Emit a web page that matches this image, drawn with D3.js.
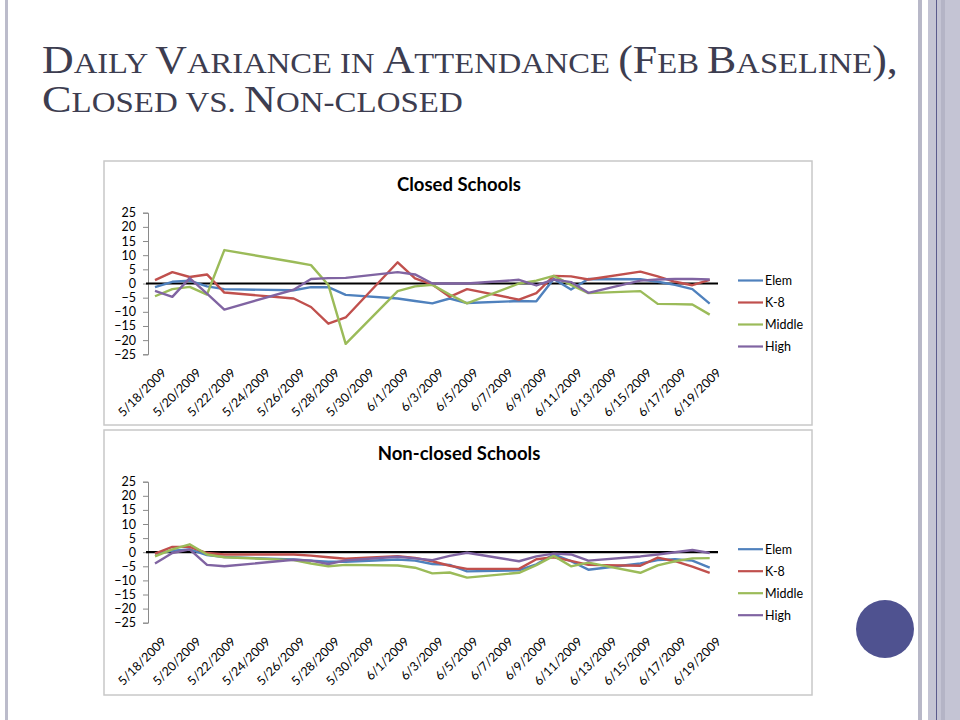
<!DOCTYPE html>
<html>
<head>
<meta charset="utf-8">
<script src="https://cdn.jsdelivr.net/npm/d3@7"></script>
<style>
  body { margin: 0; background: #fff; }
  svg { display: block; }
</style>
</head>
<body>
<div id="slide"></div>
<script>
// School days shown on both charts (weekends and Memorial Day are skipped)
var dates = ["2009-05-18", "2009-05-19", "2009-05-20", "2009-05-21", "2009-05-22",
  "2009-05-26", "2009-05-27", "2009-05-28", "2009-05-29",
  "2009-06-01", "2009-06-02", "2009-06-03", "2009-06-04", "2009-06-05",
  "2009-06-08", "2009-06-09", "2009-06-10", "2009-06-11", "2009-06-12",
  "2009-06-15", "2009-06-16", "2009-06-17", "2009-06-18", "2009-06-19"];

var seriesNames = ["Elem", "K-8", "Middle", "High"];

// Closed schools
var closedElem   = [-1.3, 0.6, 1, -1, -2, -2.4, -1.3, -1.3, -4, -5.3, -6.2, -7, -5.3, -6.9, -6.2, -6.3, 1.6, -2.1, 1.6, 1.5, 0.6, -0.5, -2, -7.1];
var closedK8     = [1.2, 4, 2.3, 3.2, -3.2, -5.3, -8.3, -14.2, -12, 7.5, 1.8, -0.4, -4.7, -2, -5.7, -3.4, 2.7, 2.5, 1.4, 4.2, 2.5, 0.6, -0.6, 1.3];
var closedMiddle = [-4.5, -2, -1.2, -3.9, 11.8, 7.6, 6.5, -0.5, -21.3, -2.7, -1, -0.5, -3.9, -7, 0, 1, 2.7, -0.5, -3.4, -2.7, -7.2, -7.3, -7.4, -11];
var closedHigh   = [-2.6, -4.7, 1.9, -3.6, -9.2, -2.2, 1.6, 1.9, 2, 4, 3.2, 0, 0, 0, 1.3, -0.7, 1.4, 0.5, -3.3, 1, 1.4, 1.6, 1.6, 1.4];

// Non-closed schools
var nonElem   = [-0.5, 0.5, 1, -1, -1.7, -2.6, -3, -3.4, -3.4, -2.6, -3, -4.2, -4.5, -6.8, -6.4, -4.3, -0.8, -3.2, -6.2, -4, -2.8, -2.5, -3, -5.5];
var nonK8     = [-0.5, 1.9, 1.9, -0.3, -0.8, -0.8, -1.2, -1.8, -2.3, -1.4, -2, -3.2, -4.8, -5.9, -5.9, -2.5, -1.8, -3.1, -4.5, -4.8, -1.9, -3.2, -5.1, -7.3];
var nonMiddle = [-1.5, 1, 2.8, -0.8, -1.8, -2.8, -4, -5, -4.5, -4.7, -5.5, -7.5, -7.2, -9, -7.3, -4.6, -1.3, -5, -3.7, -7.3, -4.7, -3.2, -2.2, -2.1];
var nonHigh   = [-4, -0.3, 1, -4.5, -5, -2.7, -3, -4.2, -2.9, -1.6, -2.2, -2.8, -1.3, -0.2, -3.2, -1.5, -0.5, -0.8, -3, -1.5, -0.8, 0, 0.8, -0.3];

var yTicks = [25, 20, 15, 10, 5, 0, -5, -10, -15, -20, -25];

// Excel 2007 default series colours
var color = d3.scaleOrdinal()
  .domain(seriesNames)
  .range(["#4F81BD", "#C0504D", "#9BBB59", "#8064A2"]);

var parseDate = d3.timeParse("%Y-%m-%d");
var fmtDate = d3.timeFormat("%-m/%-d/%Y");
var days = dates.map(parseDate);

var svg = d3.select("#slide")
  .append("svg")
    .attr("width", 960)
    .attr("height", 720);

// Slide frame
svg.append("rect").attr("x", 0).attr("y", 0).attr("width", 960).attr("height", 720).attr("fill", "#fff");
svg.append("rect").attr("x", 5).attr("y", 0).attr("width", 3).attr("height", 720).attr("fill", "#bcbccb");
svg.append("rect").attr("x", 918).attr("y", 0).attr("width", 4).attr("height", 720).attr("fill", "#b8b8c8");
svg.append("rect").attr("x", 928).attr("y", 0).attr("width", 32).attr("height", 720).attr("fill", "#c4c4d4");
svg.append("rect").attr("x", 936).attr("y", 0).attr("width", 1).attr("height", 720).attr("fill", "#5a5a8c");
svg.append("rect").attr("x", 941).attr("y", 0).attr("width", 4).attr("height", 720).attr("fill", "#b4b4c6");
svg.append("circle").attr("cx", 885).attr("cy", 629).attr("r", 29).attr("fill", "#4f5290");

// Slide title, hand-made small caps
var titleLines = [
  { y: 73, width: 856, parts: [["D", 1], ["AILY ", 0], ["V", 1], ["ARIANCE IN ", 0], ["A", 1], ["TTENDANCE ", 0],
                               ["(F", 1], ["EB ", 0], ["B", 1], ["ASELINE", 0], ["),", 1]] },
  { y: 112, width: 421, parts: [["C", 1], ["LOSED VS. ", 0], ["N", 1], ["ON-CLOSED", 0]] }
];

titleLines.forEach(function(line) {
  var t = svg.append("text")
    .attr("x", 42)
    .attr("y", line.y)
    .attr("fill", "#3d3d50")
    .style("font-family", "'Liberation Serif', 'DejaVu Serif', serif");
  t.selectAll("tspan")
    .data(line.parts)
    .enter().append("tspan")
      .style("font-size", function(d) { return d[1] ? "39px" : "29px"; })
      .text(function(d) { return d[0]; });
  var w = t.node().getComputedTextLength();
  t.attr("transform", "translate(42," + line.y + ") scale(" + (line.width / w) + ",1) translate(-42," + (-line.y) + ")");
});

var panels = [
  { title: "Closed Schools", top: 161, bottom: 425, titleY: 191, y0: 354.3, y1: 212.7,
    values: [closedElem, closedK8, closedMiddle, closedHigh] },
  { title: "Non-closed Schools", top: 430, bottom: 695, titleY: 460, y0: 622.7, y1: 481.7,
    values: [nonElem, nonK8, nonMiddle, nonHigh] }
];

panels.forEach(drawPanel);

function drawPanel(p) {
  var g = svg.append("g").style("font-family", "Lato, 'Open Sans', sans-serif");

  // Chart border
  g.append("rect")
    .attr("x", 104).attr("y", p.top)
    .attr("width", 708).attr("height", p.bottom - p.top)
    .attr("fill", "#fff")
    .attr("stroke", "#c8c8c8")
    .attr("stroke-width", 1.5);

  g.append("text")
    .attr("x", 459).attr("y", p.titleY)
    .attr("text-anchor", "middle")
    .style("font-size", "18.5px")
    .style("font-weight", "bold")
    .attr("fill", "#000")
    .text(p.title);

  var x = d3.scaleTime()
    .domain([days[0], days[days.length - 1]])
    .range([155, 709.7]);

  var y = d3.scaleLinear()
    .domain([-25, 25])
    .range([p.y0, p.y1]);

  // Y axis
  var yAxis = g.append("g")
    .attr("transform", "translate(148,0)")
    .call(d3.axisLeft(y).tickValues(yTicks).tickSize(5).tickPadding(7));
  yAxis.select(".domain").attr("stroke", "#8a8a8a");
  yAxis.selectAll(".tick line").attr("stroke", "#8a8a8a");
  yAxis.selectAll(".tick text")
    .attr("fill", "#000")
    .style("font-size", "12.5px")
    .style("font-family", "Lato, 'Open Sans', sans-serif");

  // Date labels every two days, rotated
  var tickDays = d3.timeDay.range(days[0], d3.timeDay.offset(days[days.length - 1], 1), 2);
  g.append("g")
    .selectAll("text")
    .data(tickDays)
    .enter().append("text")
      .attr("transform", function(d) { return "translate(" + (x(d) + 9) + "," + (y(0) + 87) + ") rotate(-45)"; })
      .attr("text-anchor", "end")
      .attr("dy", "0.35em")
      .style("font-size", "12.5px")
      .attr("fill", "#000")
      .text(fmtDate);

  // Zero line (horizontal axis)
  g.append("line")
    .attr("x1", 146).attr("x2", 718)
    .attr("y1", y(0)).attr("y2", y(0))
    .attr("stroke", "#000")
    .attr("stroke-width", 2.2);

  var line = d3.line()
    .x(function(d, i) { return x(days[i]); })
    .y(function(d) { return y(d); });

  g.selectAll(".series")
    .data(p.values)
    .enter().append("path")
      .attr("class", "series")
      .attr("d", line)
      .attr("fill", "none")
      .attr("stroke", function(d, i) { return color(seriesNames[i]); })
      .attr("stroke-width", 2.4)
      .attr("stroke-linejoin", "round");

  // Legend
  var leg = g.selectAll(".leg")
    .data(seriesNames)
    .enter().append("g")
      .attr("class", "leg")
      .attr("transform", function(d, i) { return "translate(738," + (y(0) - 3 + i * 22) + ")"; });
  leg.append("line")
    .attr("x1", 0).attr("x2", 25)
    .attr("stroke", function(d) { return color(d); })
    .attr("stroke-width", 2.2);
  leg.append("text")
    .attr("x", 27)
    .attr("dy", "0.35em")
    .style("font-size", "12.5px")
    .attr("fill", "#000")
    .text(function(d) { return d; });
}
</script>
</body>
</html>
